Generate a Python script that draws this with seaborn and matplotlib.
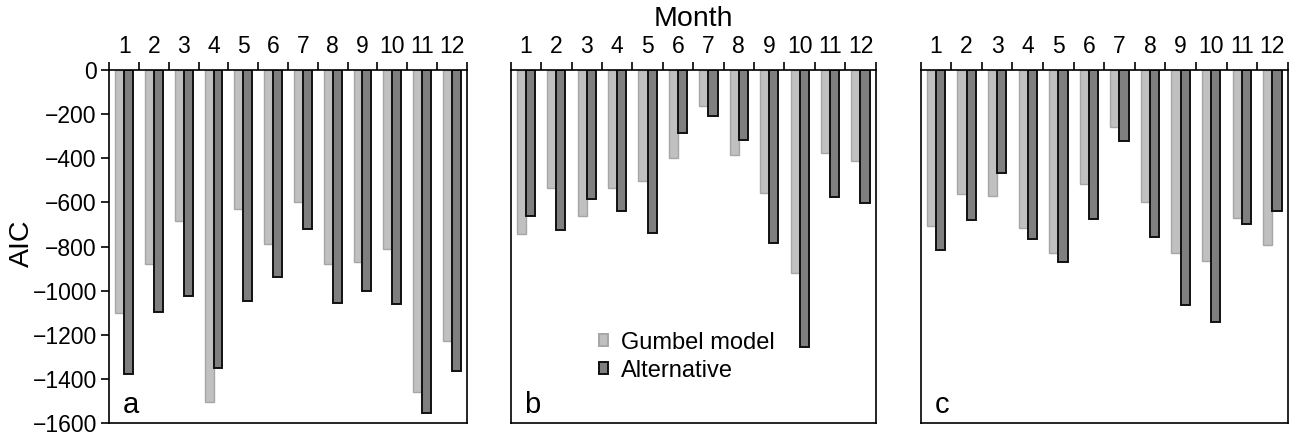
import numpy as np
import pandas as pd
import matplotlib
matplotlib.use("Agg")
import matplotlib.pyplot as plt
import seaborn as sns
from matplotlib.ticker import FixedLocator

months = list(range(1, 13))
models = ["Gumbel model", "Alternative"]

gumbel_a = [-1100, -880, -685, -1505, -630, -790, -600, -880, -868, -813, -1460, -1228]
alt_a = [-1380, -1095, -1025, -1350, -1045, -940, -720, -1055, -1003, -1060, -1555, -1363]
gumbel_b = [-745, -536, -664, -536, -501, -398, -165, -385, -558, -918, -376, -411]
alt_b = [-660, -725, -584, -638, -740, -284, -207, -318, -785, -1257, -577, -604]
gumbel_c = [-706, -562, -569, -718, -830, -516, -257, -599, -830, -865, -670, -792]
alt_c = [-817, -679, -468, -764, -871, -676, -323, -755, -1067, -1143, -699, -640]

panels = {"a": (gumbel_a, alt_a), "b": (gumbel_b, alt_b), "c": (gumbel_c, alt_c)}
yticks = [0, -200, -400, -600, -800, -1000, -1200, -1400, -1600]

sns.set_theme(style="white")
plt.rcParams['font.family'] = ['Liberation Sans', 'DejaVu Sans']
plt.rcParams.update({"text.color": "black", "axes.labelcolor": "black",
                     "xtick.color": "black", "ytick.color": "black"})

W, H = 1289, 434
fig = plt.figure(figsize=(W / 100, H / 100), dpi=100)

boxes = {"a": (109.3, 466.7), "b": (510.7, 875.7), "c": (920.7, 1287.7)}
top_px, bot_px = 70, 423

light = "#c0c0c0"
light_edge = "#a6a6a6"
dark = "#7f7f7f"
dark_edge = "#111111"

for i, (name, (g, a)) in enumerate(panels.items()):
    l, r = boxes[name]
    ax = fig.add_axes([l / W, 1 - bot_px / H, (r - l) / W, (bot_px - top_px) / H])
    df = pd.DataFrame({
        "Month": [str(m) for m in months] * 2,
        "Model": [models[0]] * 12 + [models[1]] * 12,
        "AIC": g + a,
    })
    sns.barplot(data=df, x="Month", y="AIC", hue="Model", hue_order=models,
                order=[str(m) for m in months],
                palette=[light, dark], width=0.6, ax=ax, legend=(name == "b"),
                errorbar=None, saturation=1)
    for cont, ec, lw in zip(ax.containers, [light_edge, dark_edge], [1.0, 1.4]):
        for p in cont:
            p.set_edgecolor(ec)
            p.set_linewidth(lw)
    ax.set_xlim(-0.5, 11.5)
    ax.set_ylim(-1600, 0)
    ax.xaxis.tick_top()
    ax.xaxis.set_label_position("top")
    ax.set_xticks(range(12))
    ax.set_xticklabels([str(m) for m in months], fontsize=16.5)
    ax.xaxis.set_minor_locator(FixedLocator(np.arange(-0.5, 12, 1.0)))
    ax.tick_params(axis="x", which="major", length=0, pad=9, top=True, bottom=False)
    ax.tick_params(axis="x", which="minor", length=6, width=1.2, color="black",
                   direction="out", top=True, bottom=False)
    ax.set_xlabel("Month" if name == "b" else "", fontsize=20.5, labelpad=6)
    for s in ax.spines.values():
        s.set_visible(True)
        s.set_color("black")
        s.set_linewidth(1.2)
    if name == "a":
        ax.set_yticks(yticks)
        ax.set_yticklabels([f"{v}".replace("-", "\u2212") for v in yticks], fontsize=16.5)
        ax.tick_params(axis="y", length=6, width=1.2, color="black", direction="out", left=True, pad=3)
        ax.set_ylabel("AIC", fontsize=20.5, labelpad=0)
        ax.yaxis.set_label_coords(-0.207, 0.51)
    else:
        ax.set_yticks([])
        ax.set_ylabel("")
    ax.text(0.037, 0.028, name, transform=ax.transAxes, fontsize=21, ha="left", va="baseline")
    if name == "b":
        leg = ax.legend(loc="lower left", bbox_to_anchor=(0.215, 0.09), frameon=False,
                        fontsize=17, handlelength=0.4, handleheight=0.4,
                        handletextpad=0.55, labelspacing=0.25, borderaxespad=0)
        for h, ec in zip(leg.legend_handles, [light_edge, dark_edge]):
            h.set_edgecolor(ec)
            h.set_linewidth(1.4)

fig.savefig("out.png", dpi=100)
